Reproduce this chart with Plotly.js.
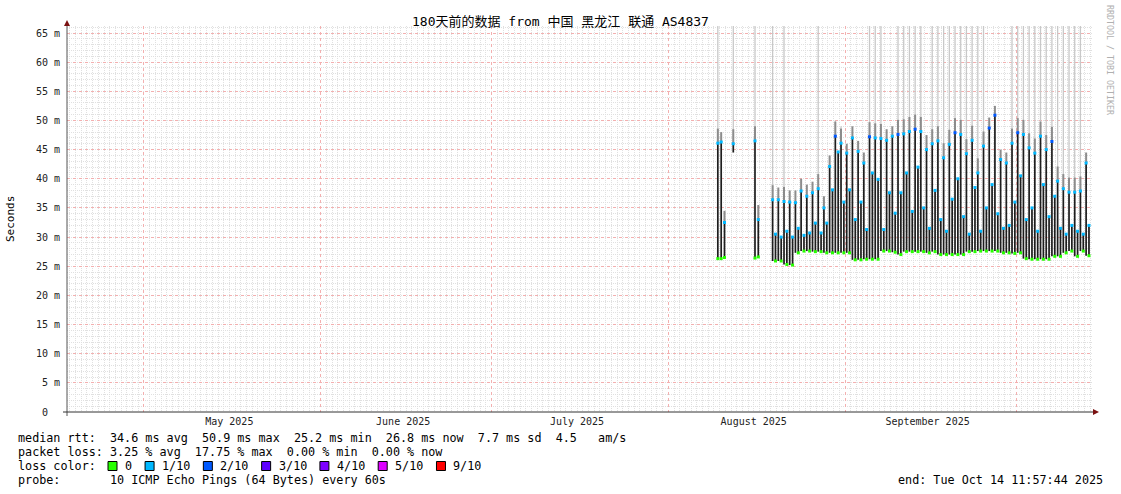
<!DOCTYPE html>
<html><head><meta charset="utf-8">
<script src="https://cdn.plot.ly/plotly-3.0.1.min.js"></script>
<style>html,body{margin:0;padding:0;background:#fff}#chart{width:1121px;height:494px}</style>
</head><body><div id="chart"></div>
<script>
// ---------------- data ----------------
const titleText = '180天前的数据 from 中国 黑龙江 联通 AS4837';
const rangeStart = '2025-04-17 11:57:44';
const rangeEnd = '2025-10-14 11:57:44';
const monthTick0 = '2025-05-01';
const yTickVals = [0, 5, 10, 15, 20, 25, 30, 35, 40, 45, 50, 55, 60, 65];

// sparse samples at the start of the data: each is a stroke from low to high
const earlyTimes = ['2025-08-09 16:15', '2025-08-10 06:25', '2025-08-10 20:20', '2025-08-12 09:20',
  '2025-08-16 04:45', '2025-08-16 18:40'];
const earlyHigh = [46.1, 46.3, 32.5, 46.0, 46.5, 33.0];
const earlyLow = [26.3, 26.3, 26.5, 44.5, 26.4, 26.6];
const earlyLoss = [1, 1, 1, 1, 1, 1];
const earlySmokeTop = [70, 48, 34.5, 70, 70, 35.5];

// continuous daily data: morning peak stroke and evening second stroke, both from the daily low
const days = ['2025-08-19', '2025-08-20', '2025-08-21', '2025-08-22', '2025-08-23', '2025-08-24', '2025-08-25',
  '2025-08-26', '2025-08-27', '2025-08-28', '2025-08-29', '2025-08-30', '2025-08-31',
  '2025-09-01', '2025-09-02', '2025-09-03', '2025-09-04', '2025-09-05', '2025-09-06', '2025-09-07',
  '2025-09-08', '2025-09-09', '2025-09-10', '2025-09-11', '2025-09-12', '2025-09-13', '2025-09-14',
  '2025-09-15', '2025-09-16', '2025-09-17', '2025-09-18', '2025-09-19', '2025-09-20', '2025-09-21',
  '2025-09-22', '2025-09-23', '2025-09-24', '2025-09-25', '2025-09-26', '2025-09-27', '2025-09-28',
  '2025-09-29', '2025-09-30',
  '2025-10-01', '2025-10-02', '2025-10-03', '2025-10-04', '2025-10-05', '2025-10-06', '2025-10-07',
  '2025-10-08', '2025-10-09', '2025-10-10', '2025-10-11', '2025-10-12', '2025-10-13'];
const peakTime = '07:00';
const secondTime = '19:00';
const peakRtt = [36.4, 36.4, 36.1, 36.0, 35.9, 37.9, 37.0, 37.6, 38.3, 35.0,
  42.1, 47.3, 46.1, 44.4, 47.0, 44.7, 42.7, 47.2, 47.0, 46.9,
  46.6, 47.3, 47.6, 47.7, 48.1, 48.5, 48.1, 45.0, 46.0, 46.5,
  43.6, 45.9, 47.9, 47.6, 44.3, 46.6, 41.0, 45.6, 48.7, 50.9,
  43.3, 42.7, 46.1, 47.9, 47.6, 45.3, 44.4, 47.3, 45.0, 46.4,
  39.6, 38.3, 37.7, 37.7, 37.9, 42.7];
const secondRtt = [30.5, 30.0, 31.0, 30.0, 31.5, 30.3, 30.7, 32.4, 30.7, 32.4,
  38.1, 44.6, 36.0, 38.1, 33.0, 36.0, 31.3, 41.0, 39.9, 31.3,
  37.6, 34.1, 37.6, 41.0, 34.4, 42.0, 35.0, 31.5, 38.0, 33.0,
  31.0, 36.5, 40.0, 33.5, 30.5, 38.5, 31.0, 35.0, 39.0, 34.0,
  31.5, 32.0, 36.0, 40.5, 33.0, 35.0, 31.0, 39.0, 33.5, 37.0,
  31.5, 30.5, 32.0, 31.0, 30.5, 32.0];
const troughRtt = [25.9, 25.9, 25.3, 25.2, 27.3,
  27.6, 27.6, 27.5, 27.5, 27.3, 27.3, 27.3, 27.3, 27.3, 26.1, 26.1, 26.2, 26.2, 26.2, 27.6, 27.6, 27.4,
  27.0, 27.5, 27.5, 27.5, 27.5, 27.3, 27.5, 27.0, 27.0, 27.0, 27.0, 27.0, 27.5, 27.5, 27.6, 27.6,
  27.6, 27.6, 27.3, 27.3, 27.2, 27.3, 26.3, 26.2, 26.2, 26.2, 26.2, 26.7, 26.7, 27.3, 27.6, 26.7, 27.6, 26.8];
const peakLoss = [1, 1, 1, 1, 1, 1, 1, 1, 1, 1,
  1, 2, 1, 1, 1, 1, 1, 2, 1, 1,
  1, 1, 2, 1, 1, 2, 1, 1, 1, 1,
  1, 1, 2, 1, 1, 1, 1, 1, 2, 2,
  1, 1, 1, 2, 1, 1, 1, 1, 1, 2,
  1, 1, 1, 1, 1, 1];
const smokeTop = [70, 38.5, 70, 38, 38, 40, 39, 39.5, 70, 37,
  44, 50, 49, 46, 49, 46.5, 44.5, 70, 70, 70,
  48.5, 49, 70, 70, 70, 70, 70, 47.5, 70, 70,
  70, 70, 70, 70, 70, 70, 70, 70, 50.5, 52.5,
  45, 44.5, 70, 70, 70, 70, 70, 70, 70, 70,
  70, 70, 70, 70, 70, 44.5];

const lossColors = ['#26ff00', '#00b8ff', '#0059ff', '#5e00ff', '#7e00ff', '#dd00ff', '#ff0000'];
const lossLabels = ['0', '1/10', '2/10', '3/10', '4/10', '5/10', '9/10'];
const statLines = [
  'median rtt:  34.6 ms avg  50.9 ms max  25.2 ms min  26.8 ms now  7.7 ms sd  4.5   am/s',
  'packet loss: 3.25 % avg  17.75 % max  0.00 % min  0.00 % now',
  'loss color:',
  'probe:       10 ICMP Echo Pings (64 Bytes) every 60s'
];
const endText = 'end: Tue Oct 14 11:57:44 2025';
const yTitle = 'Seconds';
const sideText = 'RRDTOOL / TOBI OETIKER';

// ---------------- build ----------------
const px = p => (p - 67) / 1026;
const py = p => (412 - p) / 386;
const nb = s => s.replace(/ /g, '\u00a0');
const mono = "'DejaVu Sans Mono', 'Noto Sans CJK SC', monospace";
const strokeMs = 26e6;

const barX = [], barH = [], barB = [];
const mkX = [], mkY = [], mkC = [];
const spX = [], spY = [], smX = [], smY = [];
function addSmoke(t, base, top) {
  if (top > base + 0.3) { smX.push(t, t, null); smY.push(base, Math.min(top, base + 2.5), null); }
  if (top > base + 2.5) { spX.push(t, t, null); spY.push(base, top, null); }
}
function addStroke(t, lo, hi, loss, greenBottom) {
  barX.push(t); barB.push(lo); barH.push(hi - lo);
  mkX.push(t); mkY.push(hi); mkC.push(lossColors[loss]);
  if (greenBottom) { mkX.push(t); mkY.push(lo); mkC.push(lossColors[0]); }
}
earlyTimes.forEach((t, i) => {
  addStroke(t, earlyLow[i], earlyHigh[i], earlyLoss[i], earlyLow[i] < 30);
  addSmoke(t, earlyHigh[i], earlySmokeTop[i]);
});
days.forEach((d, k) => {
  const t1 = d + ' ' + peakTime, t2 = d + ' ' + secondTime;
  addStroke(t1, troughRtt[k], peakRtt[k], peakLoss[k], false);
  addStroke(t2, troughRtt[k], secondRtt[k], 1, true);
  addSmoke(t1, peakRtt[k], smokeTop[k]);
});

const traces = [
  {x: spX, y: spY, type: 'scatter', mode: 'lines', line: {color: '#c8c8c8', width: 1.3}, hoverinfo: 'skip'},
  {x: smX, y: smY, type: 'scatter', mode: 'lines', line: {color: '#8c8c8c', width: 2}, hoverinfo: 'skip'},
  {x: barX, y: barH, base: barB, type: 'bar', width: strokeMs, marker: {color: '#1e1e1e', line: {width: 0}}, hoverinfo: 'skip'},
  {x: mkX, y: mkY, type: 'scatter', mode: 'markers', marker: {symbol: 'square', size: 3, color: mkC, line: {width: 0}}, hoverinfo: 'skip'}
];

const annotations = [];
const shapes = [];
statLines.forEach((s, i) => {
  annotations.push({xref: 'paper', yref: 'paper', x: px(16), y: py(438 + 14 * i), xanchor: 'left', yanchor: 'middle',
    text: nb(s), showarrow: false, font: {family: mono, size: 11.75, color: '#000'}});
});
annotations.push({xref: 'paper', yref: 'paper', x: px(1105), y: py(480), xanchor: 'right', yanchor: 'middle',
  text: nb(endText), showarrow: false, font: {family: mono, size: 11.75, color: '#000'}});
let bx = 108;
lossLabels.forEach((lab, i) => {
  shapes.push({type: 'rect', xref: 'paper', yref: 'paper', x0: px(bx), x1: px(bx + 9), y0: py(470.5), y1: py(461.5),
    fillcolor: lossColors[i], line: {color: '#000', width: 1}, layer: 'above'});
  const lx = bx + 15;
  annotations.push({xref: 'paper', yref: 'paper', x: px(lx), y: py(466), xanchor: 'left', yanchor: 'middle',
    text: lab, showarrow: false, font: {family: mono, size: 11.75, color: '#000'}});
  bx = lx + lab.length * 7.07 + 15;
});
annotations.push({xref: 'paper', yref: 'paper', x: px(10), y: py(219), xanchor: 'center', yanchor: 'middle',
  text: yTitle, textangle: -90, showarrow: false, font: {family: mono, size: 11, color: '#000'}});
annotations.push({xref: 'paper', yref: 'paper', x: px(1110), y: py(60), xanchor: 'center', yanchor: 'middle',
  text: nb(sideText), textangle: 90, showarrow: false, font: {family: mono, size: 8.3, color: '#b0b0b0'}});

// axis lines and arrows
shapes.push({type: 'line', xref: 'paper', yref: 'paper', x0: px(67), x1: px(67), y0: py(416), y1: py(24),
  line: {color: '#555', width: 1}, layer: 'above'});
shapes.push({type: 'line', xref: 'paper', yref: 'paper', x0: px(63), x1: px(1094), y0: py(412), y1: py(412),
  line: {color: '#333', width: 1}, layer: 'above'});
shapes.push({type: 'path', xref: 'paper', yref: 'paper',
  path: `M ${px(64)},${py(26)} L ${px(70)},${py(26)} L ${px(67)},${py(20)} Z`,
  fillcolor: '#7a1010', line: {width: 0}, layer: 'above'});
shapes.push({type: 'path', xref: 'paper', yref: 'paper',
  path: `M ${px(1093)},${py(409)} L ${px(1093)},${py(415)} L ${px(1099)},${py(412)} Z`,
  fillcolor: '#7a1010', line: {width: 0}, layer: 'above'});

const majorGrid = '#f3b0b0';
const minorGrid = '#e0e0e0';
const layout = {
  width: 1121, height: 494,
  margin: {l: 67, r: 28, t: 26, b: 82, pad: 0},
  paper_bgcolor: '#fff', plot_bgcolor: '#fff',
  showlegend: false, barmode: 'overlay',
  font: {family: mono, size: 10, color: '#222'},
  title: {text: titleText, font: {family: mono, size: 13, color: '#000'},
    x: 0.5, xref: 'container', xanchor: 'center', y: 1 - 21 / 494, yref: 'container', yanchor: 'middle'},
  xaxis: {type: 'date', range: [rangeStart, rangeEnd], tick0: monthTick0, dtick: 'M1',
    ticklabelmode: 'period', tickformat: '%B %Y', ticklabelshift: -3,
    showgrid: true, gridcolor: majorGrid, griddash: 'dot', gridwidth: 1,
    minor: {dtick: 86400000, tick0: monthTick0, showgrid: true, gridcolor: minorGrid, griddash: '1px,1px', gridwidth: 1},
    showline: false, zeroline: false, ticks: '', ticklabelstandoff: 2,
    tickfont: {family: mono, size: 10, color: '#222'}, fixedrange: true},
  yaxis: {range: [0, 66.2], tickmode: 'array', tickvals: yTickVals,
    ticktext: yTickVals.map(v => v === 0 ? '0\u00a0\u00a0' : v + '\u00a0m'),
    showgrid: true, gridcolor: majorGrid, griddash: 'dot', gridwidth: 1,
    minor: {tickmode: 'linear', tick0: 0, dtick: 1, showgrid: true, gridcolor: minorGrid, griddash: '1px,1px', gridwidth: 1},
    showline: false, zeroline: false, ticks: '', ticklabelstandoff: 6,
    tickfont: {family: mono, size: 10, color: '#222'}, fixedrange: true},
  annotations: annotations,
  shapes: shapes
};
Plotly.newPlot('chart', traces, layout, {staticPlot: true, displayModeBar: false});
</script></body></html>
